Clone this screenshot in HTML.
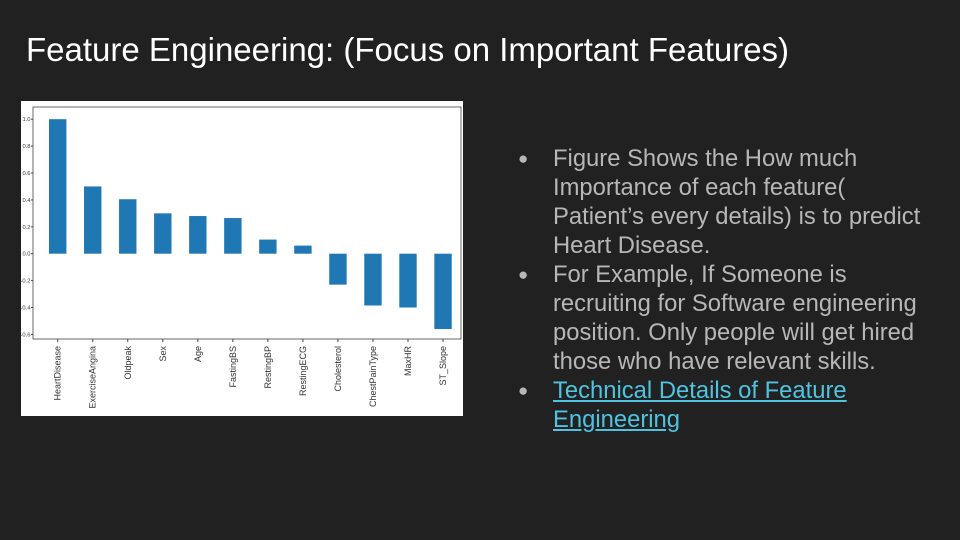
<!DOCTYPE html>
<html><head><meta charset="utf-8"><style>
body{margin:0;width:960px;height:540px;background:#212121;overflow:hidden;font-family:"Liberation Sans",sans-serif;position:relative}
#title{position:absolute;left:26px;top:31px;font-size:33px;color:#fff;white-space:nowrap}
#panel{position:absolute;left:21px;top:101px;width:442px;height:315px;background:#fff}
ul{position:absolute;left:518px;top:144px;margin:0;padding:0;list-style:none;width:415px}
li{position:relative;padding-left:35px;font-size:23.8px;line-height:29px;color:#b7b7b7;margin-bottom:0}
li::before{content:"●";position:absolute;left:0;top:0;font-size:17px;color:#b7b7b7}
a{color:#4fc3e0;text-decoration:underline}
</style></head><body>
<div id="title">Feature Engineering: (Focus on Important Features)</div>
<div id="panel">
<svg id="chart" width="442" height="315"></svg>
</div>
<ul>
<li>Figure Shows the How much Importance of each feature( Patient’s every details) is to predict Heart Disease.</li>
<li>For Example, If Someone is recruiting for Software engineering position. Only people will get hired those who have relevant skills.</li>
<li><a href="#">Technical Details of Feature Engineering</a></li>
</ul>
<script>
const categories=["HeartDisease","ExerciseAngina","Oldpeak","Sex","Age","FastingBS","RestingBP","RestingECG","Cholesterol","ChestPainType","MaxHR","ST_Slope"];
const values=[1.0,0.5,0.405,0.30,0.28,0.265,0.105,0.06,-0.23,-0.385,-0.40,-0.56];
const yTicks=[1.0,0.8,0.6,0.4,0.2,0.0,-0.2,-0.4,-0.6];
const NS="http://www.w3.org/2000/svg";
const svg=document.getElementById('chart');
const ox=21,oy=101;
const plotL=33-ox,plotR=461-ox,plotT=107-oy,plotB=339-oy;
const y=v=>(253.7-oy)-v*134.5;
const x=i=>(57.7-ox)+i*35.03;
function mk(t,a){const e=document.createElementNS(NS,t);for(const k in a)e.setAttribute(k,a[k]);svg.appendChild(e);return e;}
let fr=mk('rect',{x:plotL,y:plotT,width:plotR-plotL,height:plotB-plotT,fill:'none',stroke:'#444','stroke-width':0.8});


yTicks.forEach(t=>{
 const l=mk('line',{x1:plotL-2,x2:plotL,y1:y(t),y2:y(t),stroke:'#444'});
 
 
 const tx=mk('text',{x:plotL-2.5,y:y(t)+2,'font-size':5.8,'text-anchor':'end',fill:'#333'});
 tx.textContent=t.toFixed(1);
 
 
});
categories.forEach((c,i)=>{
 const v=values[i];
 const r=mk('rect',{x:x(i)-8.7,y:Math.min(y(v),y(0)),width:17.4,height:Math.abs(y(v)-y(0)),fill:'#1f77b4'});
 
 
 const l=mk('line',{x1:x(i),x2:x(i),y1:plotB,y2:plotB+3,stroke:'#444'});
 
 
 const tx=mk('text',{x:x(i)+3,y:plotB+7,'font-size':9,'text-anchor':'end',fill:'#333',transform:`rotate(-90 ${x(i)+3} ${plotB+7})`});
 tx.textContent=c;
 
 
});
</script>
</body></html>
